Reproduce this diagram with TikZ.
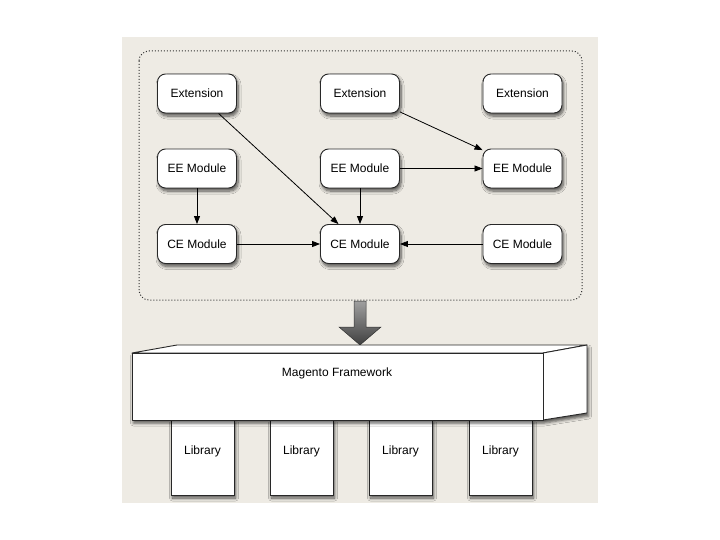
\documentclass[tikz,border=0pt]{standalone}
\usepackage{fontspec}
\setmainfont{Liberation Sans}
\usetikzlibrary{shadows,shadows.blur,arrows.meta,calc}
\definecolor{panel}{RGB}{238,235,228}
\definecolor{edge}{RGB}{40,40,40}
\tikzset{
  shd/.style={blur shadow={shadow xshift=1.5pt, shadow yshift=-3pt, shadow blur radius=3pt, shadow opacity=65, shadow blur steps=8}},
  modbox/.style={draw=edge, line width=0.9pt, fill=white, rounded corners=8pt,
    minimum width=79pt, minimum height=39pt, inner sep=0pt,
    font=\fontsize{12}{14}\selectfont, shd},
  libbox/.style={draw=edge, line width=0.9pt, fill=white,
    minimum width=63pt, minimum height=75pt, inner sep=0pt, shd},
  lbl/.style={font=\fontsize{12}{14}\selectfont, inner sep=0pt},
  conn/.style={draw=black, line width=0.8pt, -{Triangle[length=8pt,width=6pt]}},
  face/.style={draw=edge, line width=0.9pt, fill=white, line join=round},
}
\begin{document}
\begin{tikzpicture}[x=1pt,y=-1pt]
\useasboundingbox (0,0) rectangle (720,540);
\fill[panel] (122,37) rectangle (598,503);
\draw[dotted, line width=1pt, draw=black!80, rounded corners=10pt] (139,51) rectangle (582,300);

\node[modbox] (ext1) at (197,93.5) {Extension};
\node[modbox] (ext2) at (360,93.5) {Extension};
\node[modbox] (ext3) at (522.5,93.5) {Extension};
\node[modbox] (ee1) at (197,168.5) {EE Module};
\node[modbox] (ee2) at (360,168.5) {EE Module};
\node[modbox] (ee3) at (522.5,168.5) {EE Module};
\node[modbox] (ce1) at (197,244) {CE Module};
\node[modbox] (ce2) at (360,244) {CE Module};
\node[modbox] (ce3) at (522.5,244) {CE Module};

\draw[conn] (ext1) -- (ce2);
\draw[conn] (ext2) -- (ee3);
\draw[conn] (ee2) -- (ee3);
\draw[conn] (ee2) -- (ce2);
\draw[conn] (ee1) -- (ce1);
\draw[conn] (ce1) -- (ce2);
\draw[conn] (ce3) -- (ce2);

% big arrow
\shade[top color=gray!75, bottom color=black!75, draw=black!80, line width=0.5pt]
  (354,301) -- (366,301) -- (366,327) -- (381,327) -- (360,345) -- (339,327) -- (354,327) -- cycle;

% libraries
\foreach \i/\x in {1/202.5,2/301.5,3/400.5,4/500.5}{
  \node[libbox] (lib\i) at (\x,457.5) {};
  \node[lbl] (libt\i) at ($(lib\i.north)+(0,32)$) {Library};
}

% framework
\path[blur shadow={shadow xshift=1.5pt, shadow yshift=-3pt, shadow blur radius=3pt, shadow opacity=65}]
  (132,353) -- (587,345) -- (587,413) -- (543,420) -- (132,420) -- cycle;
\draw[face] (132,353) -- (177,345) -- (587,345) -- (543,353) -- cycle;
\draw[face] (543,353) -- (587,345) -- (587,413) -- (543,420) -- cycle;
\node[face, minimum width=411pt, minimum height=67pt, inner sep=0pt] (fw) at (337.5,386.5) {};
\node[lbl] (fwt) at (337,373) {Magento Framework};
\end{tikzpicture}
\end{document}
